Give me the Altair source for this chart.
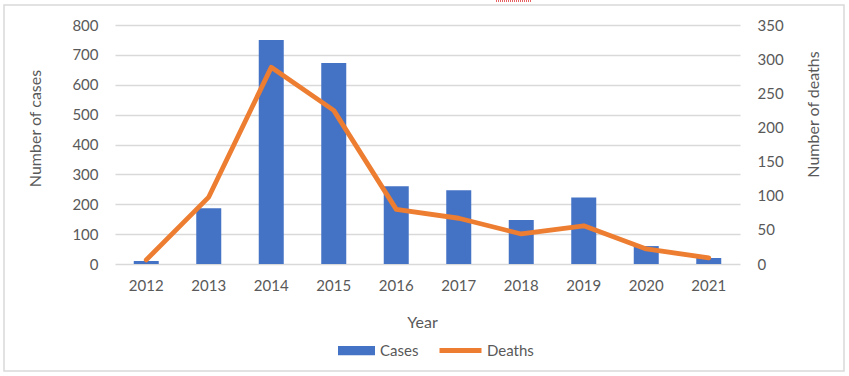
import altair as alt
import pandas as pd

years = ["2012", "2013", "2014", "2015", "2016", "2017", "2018", "2019", "2020", "2021"]
cases = [10, 187, 750, 673, 260, 247, 147, 223, 60, 20]
deaths = [6, 98, 288, 225, 80, 67, 44, 56, 22, 9]

case_ticks = [0, 100, 200, 300, 400, 500, 600, 700, 800]
death_ticks = [0, 50, 100, 150, 200, 250, 300, 350]

df = pd.DataFrame({"Year": years, "Cases": cases, "Deaths": deaths,
                   "s1": ["Cases"] * len(years), "s2": ["Deaths"] * len(years)})

FONT = "Lato"
GRAY = "#595959"
BLUE = "#4472C4"
ORANGE = "#ED7D31"

x = alt.X("Year:N", scale=alt.Scale(paddingInner=0.6, paddingOuter=0.3),
          axis=alt.Axis(title="Year", labelAngle=0, labelPadding=14, ticks=False,
                        domain=False, grid=False, titleX=307, titleY=58,
                        titleBaseline="middle", titleAlign="center"))

bars = alt.Chart(df).mark_bar(color=BLUE).encode(
    x=x,
    y=alt.Y("Cases:Q", scale=alt.Scale(domain=[0, 800], nice=False),
            axis=alt.Axis(title="Number of cases", values=case_ticks, grid=True,
                          gridColor="#d9d9d9", gridWidth=1.5, ticks=False, domain=False,
                          labelPadding=17, titleAngle=270, titleX=-80, titleY=103,
                          titleAlign="center", titleBaseline="middle")),
    fill=alt.Fill("s1:N", scale=alt.Scale(domain=["Cases"], range=[BLUE]),
                  legend=alt.Legend(title=None, orient="none", legendX=223, legendY=307,
                                    symbolType="M-1,-0.25L1,-0.25L1,0.25L-1,0.25Z",
                                    symbolSize=1369, symbolStrokeWidth=0, labelOffset=5,
                                    padding=0)),
)

line = alt.Chart(df).mark_line(strokeWidth=4.8, strokeCap="round", strokeJoin="round").encode(
    x=x,
    y=alt.Y("Deaths:Q", scale=alt.Scale(domain=[0, 350], nice=False),
            axis=alt.Axis(title="Number of deaths", orient="right", values=death_ticks,
                          grid=False, ticks=False, domain=False, labelPadding=17,
                          titleAngle=270, titleX=73, titleY=89,
                          titleAlign="center", titleBaseline="middle")),
    stroke=alt.Stroke("s2:N", scale=alt.Scale(domain=["Deaths"], range=[ORANGE]),
                      legend=alt.Legend(title=None, orient="none", legendX=322, legendY=302,
                                        symbolType="stroke", symbolSize=1764,
                                        symbolStrokeWidth=4.8, labelOffset=3, padding=0)),
)

frame_df = pd.DataFrame({"k": [0]})
frame = alt.Chart(frame_df).mark_rect(fill=None, stroke="#d9d9d9", strokeWidth=1.5).encode(
    x=alt.value(-111), x2=alt.value(729), y=alt.value(-20), y2=alt.value(346)
)
red = alt.Chart(frame_df).mark_rule(stroke="#e03030", strokeDash=[1, 1], strokeWidth=1.5).encode(
    x=alt.value(381), x2=alt.value(416), y=alt.value(-24)
)

chart = alt.layer(bars, line, frame, red).resolve_scale(y="independent", fill="independent",
                                                         stroke="independent").properties(
    width=625, height=239,
    background="white",
    autosize=alt.AutoSizeParams(type="none"),
    padding={"left": 115, "top": 25, "right": 109, "bottom": 112},
).configure_view(stroke=None).configure_axis(
    labelFont=FONT, titleFont=FONT, labelColor=GRAY, titleColor=GRAY,
    labelFontSize=15, titleFontSize=16, titleFontWeight="normal",
).configure_legend(labelFont=FONT, labelFontSize=15, labelColor=GRAY)

chart.save("out.html", embed_options={"renderer": "svg", "actions": False})
